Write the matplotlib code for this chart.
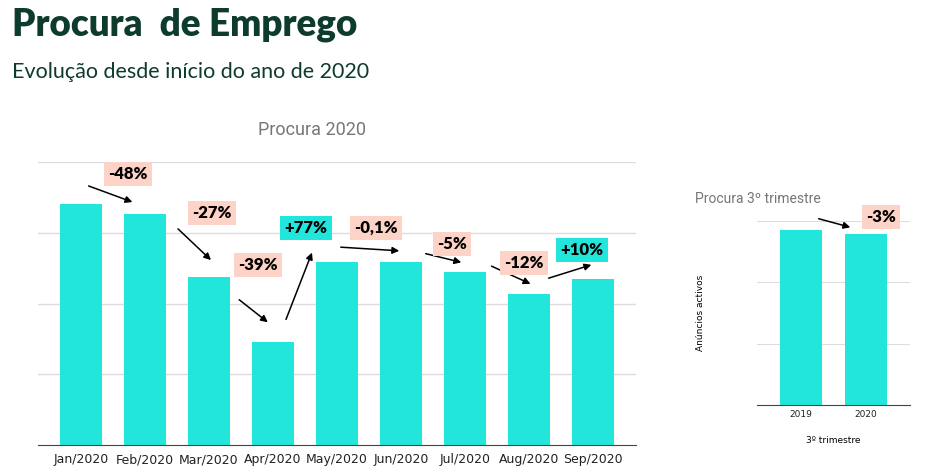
import matplotlib.pyplot as plt

months = ["Jan/2020", "Feb/2020", "Mar/2020", "Apr/2020", "May/2020",
          "Jun/2020", "Jul/2020", "Aug/2020", "Sep/2020"]
procura = [3.41, 3.27, 2.38, 1.46, 2.59, 2.59, 2.45, 2.14, 2.34]
changes = ["-48%", "-27%", "-39%", "+77%", "-0,1%", "-5%", "-12%", "+10%"]

years = ["2019", "2020"]
trimestre = [2.85, 2.79]
tri_change = "-3%"

BAR = "#22e5dc"
PINK = "#fcd3c6"
DARK = "#0d3b2e"
W, H = 951, 470


def fx(px):
	return px / W


def fy(py):
	return 1 - py / H


fig = plt.figure(figsize=(9.51, 4.70), dpi=100)

fig.text(fx(12), fy(35), "Procura  de Emprego", fontsize=26.5, fontweight="heavy",
         family="Lato", color=DARK, va="baseline")
fig.text(fx(12), fy(78), "Evolução desde início do ano de 2020", fontsize=15.5,
         family="Lato", color=DARK, va="baseline")

# main chart
ax = fig.add_axes([fx(38), fy(445), fx(636) - fx(38), fy(162) - fy(445)])
ax.bar(range(len(months)), procura, width=0.65, color=BAR, zorder=2)
ax.set_xlim(-0.67, len(months) - 0.33)
ax.set_ylim(0, 4)
ax.set_yticks([1, 2, 3, 4])
ax.set_yticklabels([])
ax.tick_params(axis="y", length=0)
ax.tick_params(axis="x", length=0, labelsize=9, colors="#222222", pad=6)
ax.set_xticks(range(len(months)))
ax.set_xticklabels(months)
ax.grid(axis="y", color="#dddddd", lw=1, zorder=0)
for s in ["top", "right", "left"]:
	ax.spines[s].set_visible(False)
ax.spines["bottom"].set_color("#444444")
fig.text(fx(312), fy(130), "Procura 2020", fontsize=13, color="#777777",
         ha="center", va="center", family="Roboto")

label_pos = [(128, 174), (212, 213), (258, 265), (306, 228),
             (376, 228), (452, 244), (524, 263), (582, 250)]
arrows = [((86, 185), (135, 203)), ((176, 227), (213, 262)),
          ((237, 298), (270, 324)), ((285, 322), (313, 250)),
          ((338, 247), (402, 251)), ((423, 253), (464, 263)),
          ((489, 265), (533, 285)), ((546, 279), (594, 264))]

for txt, (lx, ly), (a, b) in zip(changes, label_pos, arrows):
	fc = BAR if txt.startswith("+") else PINK
	fig.text(fx(lx), fy(ly), txt, fontsize=12, fontweight="heavy", family="Lato",
	         ha="center", va="center",
	         bbox=dict(boxstyle="square,pad=0.25", fc=fc, ec="none"))
	fig.add_artist(plt.Annotation("", xy=(fx(b[0]), fy(b[1])), xytext=(fx(a[0]), fy(a[1])),
	               xycoords="figure fraction", textcoords="figure fraction",
	               arrowprops=dict(arrowstyle="-|>", color="black", lw=1.1, mutation_scale=10)))

# side chart
ax2 = fig.add_axes([fx(757), fy(405), fx(910) - fx(757), fy(221) - fy(405)])
ax2.bar(range(len(years)), trimestre, width=0.65, color=BAR, zorder=2)
ax2.set_xlim(-0.68, len(years) - 0.32)
ax2.set_ylim(0, 3)
ax2.set_yticks([1, 2, 3])
ax2.set_yticklabels([])
ax2.tick_params(axis="y", length=0)
ax2.tick_params(axis="x", length=0, labelsize=6.5, colors="#222222")
ax2.set_xticks(range(len(years)))
ax2.set_xticklabels(years)
ax2.grid(axis="y", color="#dddddd", lw=0.8, zorder=0)
for s in ["top", "right", "left"]:
	ax2.spines[s].set_visible(False)
ax2.spines["bottom"].set_color("#444444")
ax2.set_xlabel("3º trimestre", fontsize=6.5, labelpad=12)
ax2.set_ylabel("Anúncios activos", fontsize=6.5, labelpad=34)
fig.text(fx(695), fy(199), "Procura 3º trimestre", fontsize=10, color="#777777",
         va="center", family="Roboto")
fig.text(fx(881), fy(217), tri_change, fontsize=12, fontweight="heavy", family="Lato",
         ha="center", va="center",
         bbox=dict(boxstyle="square,pad=0.25", fc=PINK, ec="none"))
fig.add_artist(plt.Annotation("", xy=(fx(853), fy(228)), xytext=(fx(816), fy(218)),
               xycoords="figure fraction", textcoords="figure fraction",
               arrowprops=dict(arrowstyle="-|>", color="black", lw=1.1, mutation_scale=10)))

fig.savefig("out.png", dpi=100)
